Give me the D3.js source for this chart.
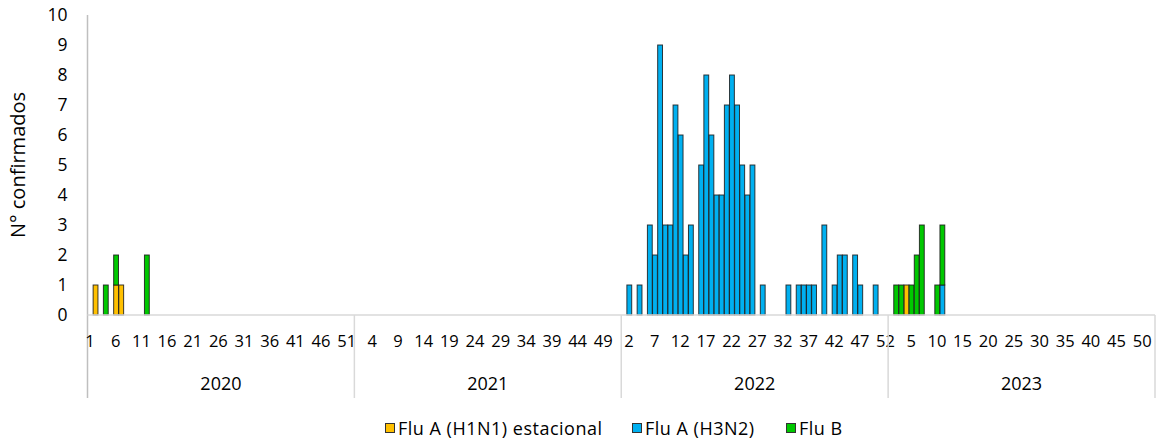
<!DOCTYPE html>
<html>
<head>
<meta charset="utf-8">
<script src="https://cdn.jsdelivr.net/npm/d3@7/dist/d3.min.js"></script>
<style>
  html, body { margin: 0; padding: 0; background: #fff; }
  svg { display: block; font-family: "Open Sans", sans-serif; }
</style>
</head>
<body>
<svg id="chart" width="1162" height="442"></svg>
<script>
// ---- data ----
const years = [2020, 2021, 2022, 2023];
const weeksPerYear = 52;
const seriesNames = ["Flu A (H1N1) estacional", "Flu A (H3N2)", "Flu B"];
const seriesColors = ["#FFC000", "#00B0F0", "#00C800"];
const yTicks = [0, 1, 2, 3, 4, 5, 6, 7, 8, 9, 10];
const yTitle = "N° confirmados";

// [year, week, count]
const h1n1 = [
  [2020, 2, 1], [2020, 6, 1], [2020, 7, 1],
  [2023, 4, 1]
];
const h3n2 = [
  [2022, 2, 1], [2022, 4, 1], [2022, 6, 3], [2022, 7, 2], [2022, 8, 9],
  [2022, 9, 3], [2022, 10, 3], [2022, 11, 7], [2022, 12, 6], [2022, 13, 2],
  [2022, 14, 3], [2022, 16, 5], [2022, 17, 8], [2022, 18, 6], [2022, 19, 4],
  [2022, 20, 4], [2022, 21, 7], [2022, 22, 8], [2022, 23, 7], [2022, 24, 5],
  [2022, 25, 4], [2022, 26, 5], [2022, 28, 1], [2022, 33, 1], [2022, 35, 1],
  [2022, 36, 1], [2022, 37, 1], [2022, 38, 1], [2022, 40, 3], [2022, 42, 1],
  [2022, 43, 2], [2022, 44, 2], [2022, 46, 2], [2022, 47, 1], [2022, 50, 1],
  [2023, 11, 1]
];
const fluB = [
  [2020, 4, 1], [2020, 6, 1], [2020, 12, 2],
  [2023, 2, 1], [2023, 3, 1], [2023, 5, 1], [2023, 6, 2], [2023, 7, 3],
  [2023, 10, 1], [2023, 11, 2]
];

// ---- build table ----
const categories = [];
years.forEach(yr => { for (let w = 1; w <= weeksPerYear; w++) categories.push({ key: yr + "-" + w, year: yr, week: w }); });
const seriesData = [h1n1, h3n2, fluB];
const table = categories.map(c => {
  const row = { key: c.key };
  seriesNames.forEach((s, i) => {
    const hit = seriesData[i].find(d => d[0] === c.year && d[1] === c.week);
    row[s] = hit ? hit[2] : 0;
  });
  return row;
});

// ---- layout ----
const svg = d3.select("#chart");
const pLeft = 87.5, pRight = 1155, pTop = 15, pBottom = 315, sepBottom = 398;
const FONT = "'Open Sans', sans-serif";
const x = d3.scaleBand().domain(categories.map(c => c.key)).range([pLeft, pRight]).padding(0);
const y = d3.scaleLinear().domain([0, 10]).range([pBottom, pTop]);
const color = d3.scaleOrdinal().domain(seriesNames).range(seriesColors);

// bars
const stacked = d3.stack().keys(seriesNames)(table);
svg.append("g").selectAll("g").data(stacked).join("g")
  .attr("fill", d => color(d.key))
  .selectAll("rect").data(d => d.filter(p => p[1] - p[0] > 0)).join("rect")
  .attr("x", d => x(d.data.key) + 0.5)
  .attr("width", x.bandwidth() - 0.3)
  .attr("y", d => y(d[1]))
  .attr("height", d => y(d[0]) - y(d[1]))
  .attr("stroke", "#1a1a1a")
  .attr("stroke-opacity", 0.85)
  .attr("stroke-width", 1);

// y axis
const yAxis = d3.axisLeft(y).tickValues(yTicks).tickSize(0).tickPadding(20).tickFormat(d3.format("d"));
const gy = svg.append("g").attr("transform", `translate(${pLeft},0)`).call(yAxis);
gy.select(".domain").remove();
gy.selectAll("text").attr("font-size", 17.5).attr("fill", "#000").attr("font-family", FONT);
svg.append("line").attr("x1", pLeft).attr("x2", pLeft).attr("y1", pTop).attr("y2", sepBottom)
  .attr("stroke", "#bfbfbf").attr("stroke-width", 1.5);

// x axis line
svg.append("line").attr("x1", pLeft).attr("x2", pRight).attr("y1", pBottom).attr("y2", pBottom)
  .attr("stroke", "#d9d9d9").attr("stroke-width", 1.5);

// week labels (every 5th category)
const xAxis = d3.axisBottom(x)
  .tickValues(categories.filter((c, i) => i % 5 === 0).map(c => c.key))
  .tickSize(0).tickPadding(20)
  .tickFormat(k => k.split("-")[1]);
const gx = svg.append("g").attr("transform", `translate(0,${pBottom})`).call(xAxis);
gx.select(".domain").remove();
gx.selectAll("text").attr("font-size", 16.5).attr("fill", "#000").attr("font-family", FONT);

// year group separators and labels
years.forEach((yr, i) => {
  const x0 = x(yr + "-1");
  const x1 = x(yr + "-" + weeksPerYear) + x.bandwidth();
  if (i > 0) svg.append("line").attr("x1", x0).attr("x2", x0).attr("y1", pBottom).attr("y2", sepBottom)
    .attr("stroke", "#d9d9d9").attr("stroke-width", 1.5);
  svg.append("text").attr("x", (x0 + x1) / 2).attr("y", 390).attr("text-anchor", "middle")
    .attr("font-size", 18).attr("fill", "#000").text(yr);
});
svg.append("line").attr("x1", pRight).attr("x2", pRight).attr("y1", pBottom).attr("y2", sepBottom)
  .attr("stroke", "#d9d9d9").attr("stroke-width", 1.5);

// y title
svg.append("text").attr("transform", "translate(25,165) rotate(-90)")
  .attr("text-anchor", "middle").attr("font-size", 20).attr("fill", "#000").text(yTitle);

// legend
const legendX = [385, 632, 786];
const lg = svg.append("g");
seriesNames.forEach((s, i) => {
  const g = lg.append("g").attr("transform", `translate(${legendX[i]},428)`);
  g.append("rect").attr("x", 0.5).attr("y", -4.5).attr("width", 9).attr("height", 9)
    .attr("fill", color(s)).attr("stroke", "#333").attr("stroke-width", 1);
  g.append("text").attr("x", 13).attr("y", 6.5).attr("font-size", 18)
    .attr("letter-spacing", 0.5).attr("fill", "#000").text(s);
});
</script>
</body>
</html>
